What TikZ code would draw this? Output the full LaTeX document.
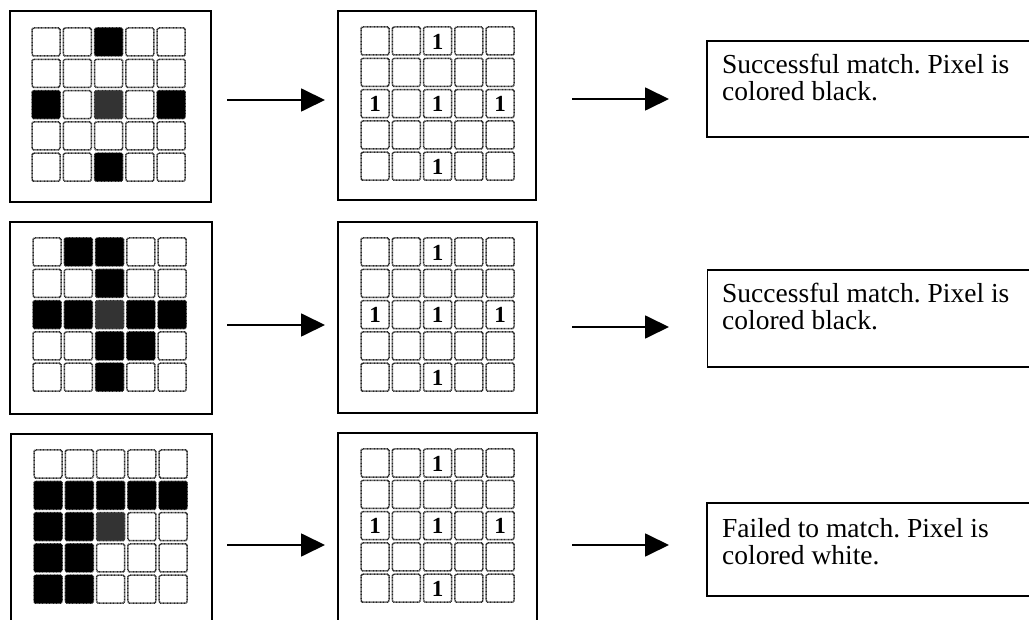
\documentclass[tikz,border=0pt]{standalone}
\usepackage{fontspec}
\setmainfont{Liberation Serif}
\usetikzlibrary{arrows.meta}
\frenchspacing
\newcommand{\mygrid}[2]{%
  \foreach \r in {0,...,4}{\foreach \c in {0,...,4}{%
    \draw[cellbox] ({#1+\c*31.3},{#2+\r*31.3}) rectangle ++(28,28);}}}
\newcommand{\myfill}[4]{%
  \foreach \c/\r in {#3}{%
    \fill[#4,rounded corners=1.5pt] ({#1+(\c-1)*31.3},{#2+(\r-1)*31.3}) rectangle ++(28,28);}}
\newcommand{\myones}[3]{%
  \foreach \c/\r [count=\i] in {3/1,1/3,3/3,5/3,3/5}{%
    \node[onetxt] (#3d\i) at ({#1+(\c-1)*31.3+14},{#2+(\r-1)*31.3+14.5}) {1};}}
\begin{document}
\begin{tikzpicture}[x=1pt,y=-1pt,
  panel/.style={draw=black,line width=1.6pt,inner sep=0pt},
  tbox/.style={draw=black,line width=1.7pt,inner sep=0pt},
  cellbox/.style={draw=black!85,line width=1.5pt,dash pattern=on 0.9pt off 0.5pt,rounded corners=1.5pt,fill=white},
  txt/.style={inner sep=0pt,align=left,font=\fontsize{27.5}{27}\selectfont},
  onetxt/.style={inner sep=0pt,font=\fontsize{23}{23}\selectfont\bfseries},
  arr/.style={line width=1.8pt,-{Triangle[length=24pt,width=23pt]}},
  darkcell/.style={fill=black!80}
]
\useasboundingbox (0,0) rectangle (1029,620);
\fill[white] (0,0) rectangle (1029,620);

% panels
\node[panel,minimum width=201pt,minimum height=191pt] (L1) at (110.5,106.5) {};
\node[panel,minimum width=202pt,minimum height=192pt] (L2) at (111,318) {};
\node[panel,minimum width=201pt,minimum height=192pt] (L3) at (111.5,530) {};
\node[panel,minimum width=198pt,minimum height=189pt] (M1) at (437,105.5) {};
\node[panel,minimum width=199pt,minimum height=191pt] (M2) at (437.5,317.5) {};
\node[panel,minimum width=199pt,minimum height=192pt] (M3) at (437.5,529) {};

% input grids
\mygrid{32}{28}
\myfill{32}{28}{3/1,1/3,5/3,3/5}{black}
\myfill{32}{28}{3/3}{darkcell}
\mygrid{33}{238}
\myfill{33}{238}{2/1,3/1,3/2,1/3,2/3,4/3,5/3,3/4,4/4,3/5}{black}
\myfill{33}{238}{3/3}{darkcell}
\mygrid{34}{450}
\myfill{34}{450}{1/2,2/2,3/2,4/2,5/2,1/3,2/3,1/4,2/4,1/5,2/5}{black}
\myfill{34}{450}{3/3}{darkcell}

% template grids
\mygrid{361}{27}
\myones{361}{27}{ma}
\mygrid{361}{238}
\myones{361}{238}{mb}
\mygrid{361}{449}
\myones{361}{449}{mc}

% text boxes
\node[tbox,minimum width=333pt,minimum height=96pt] (T1) at (873.5,89) {};
\node[txt,anchor=north west] (t1) at (722,54) {Successful match. Pixel is\\colored black.};
\node[tbox,minimum width=333pt,minimum height=97pt] (T2) at (874,318.5) {};
\node[txt,anchor=north west] (t2) at (722,283) {Successful match. Pixel is\\colored black.};
\node[tbox,minimum width=333pt,minimum height=93pt] (T3) at (873.5,549.5) {};
\node[txt,anchor=north west] (t3) at (722,518) {Failed to match. Pixel is\\colored white.};

% arrow end points
\coordinate (a1s) at (227,100); \coordinate (a1e) at (325,100);
\coordinate (b1s) at (572,99);  \coordinate (b1e) at (669,99);
\coordinate (a2s) at (227,325); \coordinate (a2e) at (325,325);
\coordinate (b2s) at (572,327); \coordinate (b2e) at (669,327);
\coordinate (a3s) at (227,545); \coordinate (a3e) at (325,545);
\coordinate (b3s) at (572,545); \coordinate (b3e) at (669,545);
\draw[arr] (a1s) -- (a1e);
\draw[arr] (b1s) -- (b1e);
\draw[arr] (a2s) -- (a2e);
\draw[arr] (b2s) -- (b2e);
\draw[arr] (a3s) -- (a3e);
\draw[arr] (b3s) -- (b3e);
\end{tikzpicture}
\end{document}
